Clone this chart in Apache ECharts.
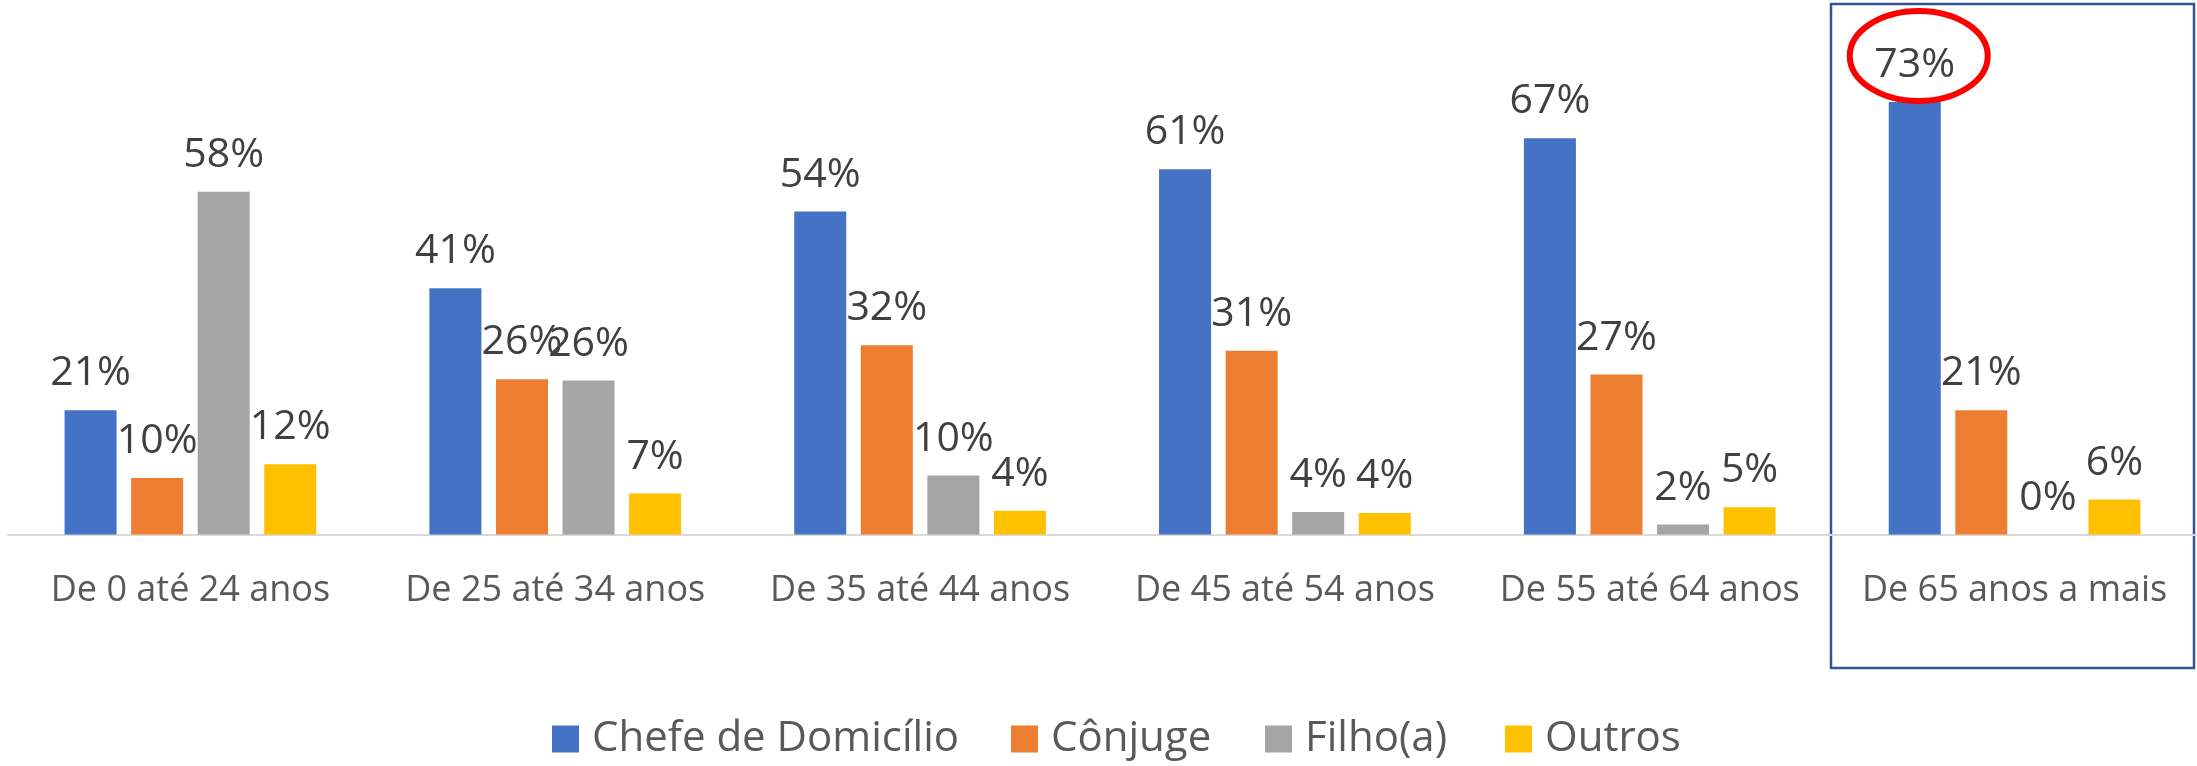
<!DOCTYPE html>
<html>
<head>
<meta charset="utf-8">
<script src="https://cdn.jsdelivr.net/npm/echarts@6/dist/echarts.min.js"></script>
<style>
html,body{margin:0;padding:0;background:#fff;}
#c{width:2197px;height:766px;}
</style>
</head>
<body>
<div id="c"></div>
<script>
const categories = ['De 0 até 24 anos','De 25 até 34 anos','De 35 até 44 anos','De 45 até 54 anos','De 55 até 64 anos','De 65 anos a mais'];
const seriesNames = ['Chefe de Domicílio','Cônjuge','Filho(a)','Outros'];
const chefe   = [20.9, 41.4, 54.3, 61.4, 66.6, 72.7];
const conjuge = [9.5, 26.1, 31.8, 30.9, 26.9, 20.9];
const filho   = [57.6, 25.9, 9.9, 3.8, 1.7, 0];
const outros  = [11.8, 6.9, 4.0, 3.6, 4.6, 5.9];
const colors = ['#4472C4','#ED7D31','#A5A5A5','#FFC000'];
const legendLefts = [552, 1011, 1265, 1505];

const FONT = '"Open Sans", "Noto Sans", sans-serif';
const chart = echarts.init(document.getElementById('c'), null, {renderer:'canvas'});

function mk(name, data, color){
  return {
    name: name, type:'bar', data: data,
    barWidth: 52, barGap: '28%',
    itemStyle:{color: color},
    label:{show:true, position:'top', distance:16, color:'#404040',
      fontFamily: FONT, fontSize:41,
      formatter: p => Math.round(p.value) + '%'},
    emphasis:{disabled:true},
    animation:false
  };
}

chart.setOption({
  animation:false,
  textStyle:{fontFamily: FONT},
  grid:{left:8, right:-9, top:58.5, bottom:231.5, containLabel:false},
  xAxis:{type:'category', data: categories,
    axisLine:{show:true, lineStyle:{color:'#D9D9D9', width:2}},
    axisTick:{show:false},
    axisLabel:{color:'#595959', fontSize:36, fontFamily: FONT, margin:38, interval:0}},
  yAxis:{type:'value', min:0, max:80, show:false, splitLine:{show:false}},
  legend: seriesNames.map((n, i) => ({
    data:[n], top:718, left: legendLefts[i], padding:0, icon:'rect', itemWidth:27, itemHeight:27,
    textStyle:{color:'#595959', fontSize:42, fontFamily: FONT, padding:[0,0,0,8]}
  })),
  series:[mk(seriesNames[0], chefe, colors[0]), mk(seriesNames[1], conjuge, colors[1]),
          mk(seriesNames[2], filho, colors[2]), mk(seriesNames[3], outros, colors[3])]
});

// annotations: box around last category and ellipse around max label
const lay = chart.getModel().getSeriesByIndex(0).getData().getItemLayout(5);
const cx = lay.x + lay.width/2;
const topY = Math.min(lay.y, lay.y + lay.height);
chart.setOption({
  graphic:[
    {type:'rect', shape:{x:1831, y:4, width:363, height:664}, style:{fill:null, stroke:'#2F5597', lineWidth:2.5}, silent:true},
    {type:'ellipse', shape:{cx: cx + 4, cy: topY - 46, rx: 69, ry: 45}, style:{fill:null, stroke:'#FF0000', lineWidth:6}, silent:true, z:100}
  ]
});
</script>
</body>
</html>
